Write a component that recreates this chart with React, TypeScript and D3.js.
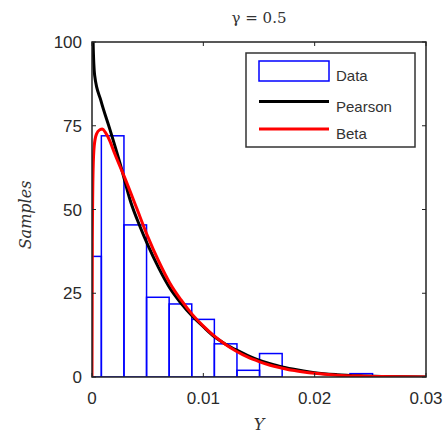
import React, { useEffect, useRef } from 'react';
import * as d3 from 'd3';

// histogram bins (left edges) and counts
const binStarts = [-0.00119, 0.00084, 0.00287, 0.0049, 0.00693, 0.00896, 0.01099, 0.01302, 0.01505, 0.01708, 0.01911, 0.02114, 0.02317];
const binWidth = 0.00203;
const counts = [36, 72, 45.4, 23.8, 21.8, 17.2, 9.9, 2, 7, 0, 0, 0, 1];

// fitted curves
const pearsonX = [0, 0.0001, 0.00024, 0.0008, 0.0016, 0.0025, 0.0035, 0.0043, 0.005, 0.006, 0.007, 0.008, 0.009, 0.01, 0.011, 0.012, 0.013, 0.014, 0.015, 0.016, 0.017, 0.018, 0.019, 0.02, 0.022, 0.024, 0.026, 0.028, 0.03];
const pearsonY = [140, 100, 90, 82.5, 74, 64, 52, 45, 39.5, 32.5, 26.5, 22, 18.2, 15, 12, 9.8, 8, 6.4, 5, 4, 3.1, 2.4, 1.8, 1.3, 0.7, 0.35, 0.15, 0.05, 0.02];
const betaX = [0, 0.00003, 0.0001, 0.0002, 0.0004, 0.0007, 0.00093, 0.0012, 0.0016, 0.002, 0.003, 0.004, 0.005, 0.006, 0.007, 0.008, 0.009, 0.01, 0.011, 0.012, 0.013, 0.014, 0.015, 0.016, 0.017, 0.018, 0.019, 0.02, 0.022, 0.024, 0.026, 0.028, 0.03];
const betaY = [0, 40, 62, 69, 72.5, 73.8, 74, 73, 70.5, 67, 59, 50.5, 42, 34.5, 28, 23, 18.7, 15.2, 12.2, 9.7, 7.6, 5.9, 4.6, 3.5, 2.7, 2, 1.5, 1.1, 0.55, 0.27, 0.12, 0.05, 0.01];

const xTicks = [0, 0.01, 0.02, 0.03];
const yTicks = [0, 25, 50, 75, 100];
const legendItems = ['Data', 'Pearson', 'Beta'];

const App = () => {
  const svgRef = useRef<SVGSVGElement>(null);

  useEffect(() => {
    const width = 448;
    const height = 437;
    const left = 92, right = 426, top = 42, bottom = 377;

    const svg = d3.select(svgRef.current);
    svg.selectAll('*').remove();

    const x = d3.scaleLinear().domain([0, 0.03]).range([left, right]);
    const y = d3.scaleLinear().domain([0, 100]).range([bottom, top]);

    svg.append('rect').attr('width', width).attr('height', height).attr('fill', 'white');

    svg.append('clipPath').attr('id', 'plotclip')
      .append('rect')
      .attr('x', left).attr('y', top)
      .attr('width', right - left).attr('height', bottom - top);

    const plot = svg.append('g').attr('clip-path', 'url(#plotclip)');

    // bars (empty bins are skipped)
    const bins = counts
      .map((c, i) => ({ x0: binStarts[i], count: c }))
      .filter(b => b.count > 0);

    plot.selectAll('rect.bar')
      .data(bins)
      .enter()
      .append('rect')
      .attr('class', 'bar')
      .attr('x', d => x(d.x0))
      .attr('y', d => y(d.count))
      .attr('width', x(binWidth) - x(0))
      .attr('height', d => y(0) - y(d.count))
      .attr('fill', 'none')
      .attr('stroke', '#0000ff')
      .attr('stroke-width', 1.5);

    const line = d3.line<[number, number]>()
      .x(d => x(d[0]))
      .y(d => y(d[1]))
      .curve(d3.curveMonotoneX);

    plot.append('path')
      .attr('d', line(pearsonX.map((v, i) => [v, pearsonY[i]])))
      .attr('fill', 'none')
      .attr('stroke', '#000')
      .attr('stroke-width', 3);

    plot.append('path')
      .attr('d', line(betaX.map((v, i) => [v, betaY[i]])))
      .attr('fill', 'none')
      .attr('stroke', '#ff0000')
      .attr('stroke-width', 3);

    // axes box
    svg.append('rect')
      .attr('x', left).attr('y', top)
      .attr('width', right - left).attr('height', bottom - top)
      .attr('fill', 'none')
      .attr('stroke', '#222')
      .attr('stroke-width', 1.5);

    const tickFont = '"Liberation Sans", Arial, sans-serif';
    const tickLen = 4;

    xTicks.forEach(t => {
      svg.append('line')
        .attr('x1', x(t)).attr('x2', x(t))
        .attr('y1', top).attr('y2', top + tickLen)
        .attr('stroke', '#222');
      svg.append('line')
        .attr('x1', x(t)).attr('x2', x(t))
        .attr('y1', bottom).attr('y2', bottom - tickLen)
        .attr('stroke', '#222');
      svg.append('text')
        .attr('x', x(t)).attr('y', 404)
        .attr('text-anchor', 'middle')
        .style('font-family', tickFont)
        .style('font-size', '17px')
        .attr('fill', '#2a2a2a')
        .text(d3.format('~g')(t));
    });

    yTicks.forEach(t => {
      svg.append('line')
        .attr('x1', left).attr('x2', left + tickLen)
        .attr('y1', y(t)).attr('y2', y(t))
        .attr('stroke', '#222');
      svg.append('line')
        .attr('x1', right).attr('x2', right - tickLen)
        .attr('y1', y(t)).attr('y2', y(t))
        .attr('stroke', '#222');
      svg.append('text')
        .attr('x', 82).attr('y', y(t) + 6)
        .attr('text-anchor', 'end')
        .style('font-family', tickFont)
        .style('font-size', '17px')
        .attr('fill', '#2a2a2a')
        .text(t);
    });

    // title and labels
    const serif = '"DejaVu Serif", "Liberation Serif", serif';
    svg.append('text')
      .attr('x', 259).attr('y', 23)
      .attr('text-anchor', 'middle')
      .style('font-family', serif)
      .style('font-size', '15px')
      .attr('fill', '#333')
      .text('γ = 0.5');

    svg.append('text')
      .attr('x', 259).attr('y', 430)
      .attr('text-anchor', 'middle')
      .style('font-family', serif)
      .style('font-style', 'italic')
      .style('font-size', '16px')
      .attr('fill', '#333')
      .text('Y');

    svg.append('text')
      .attr('transform', 'translate(31,215) rotate(-90)')
      .attr('text-anchor', 'middle')
      .style('font-family', serif)
      .style('font-style', 'italic')
      .style('font-size', '16px')
      .attr('fill', '#333')
      .text('Samples');

    // legend
    const lg = svg.append('g');
    lg.append('rect')
      .attr('x', 246).attr('y', 53)
      .attr('width', 169).attr('height', 94)
      .attr('fill', 'white')
      .attr('stroke', '#333')
      .attr('stroke-width', 1.5);

    const rowY = [71, 101.5, 129];
    legendItems.forEach((name, i) => {
      if (i === 0) {
        lg.append('rect')
          .attr('x', 259).attr('y', 61)
          .attr('width', 70).attr('height', 20)
          .attr('fill', 'none')
          .attr('stroke', '#0000ff')
          .attr('stroke-width', 1.5);
      } else {
        lg.append('line')
          .attr('x1', 259).attr('x2', 329)
          .attr('y1', rowY[i]).attr('y2', rowY[i])
          .attr('stroke', i === 1 ? '#000' : '#ff0000')
          .attr('stroke-width', 3);
      }
      lg.append('text')
        .attr('x', 336).attr('y', rowY[i] + 10)
        .style('font-family', tickFont)
        .style('font-size', '15px')
        .attr('fill', '#333')
        .text(name);
    });
  }, []);

  return (
    <svg ref={svgRef} width={448} height={437}
      style={{ position: 'absolute', left: 0, top: 0, display: 'block' }} />
  );
};

export default App;
